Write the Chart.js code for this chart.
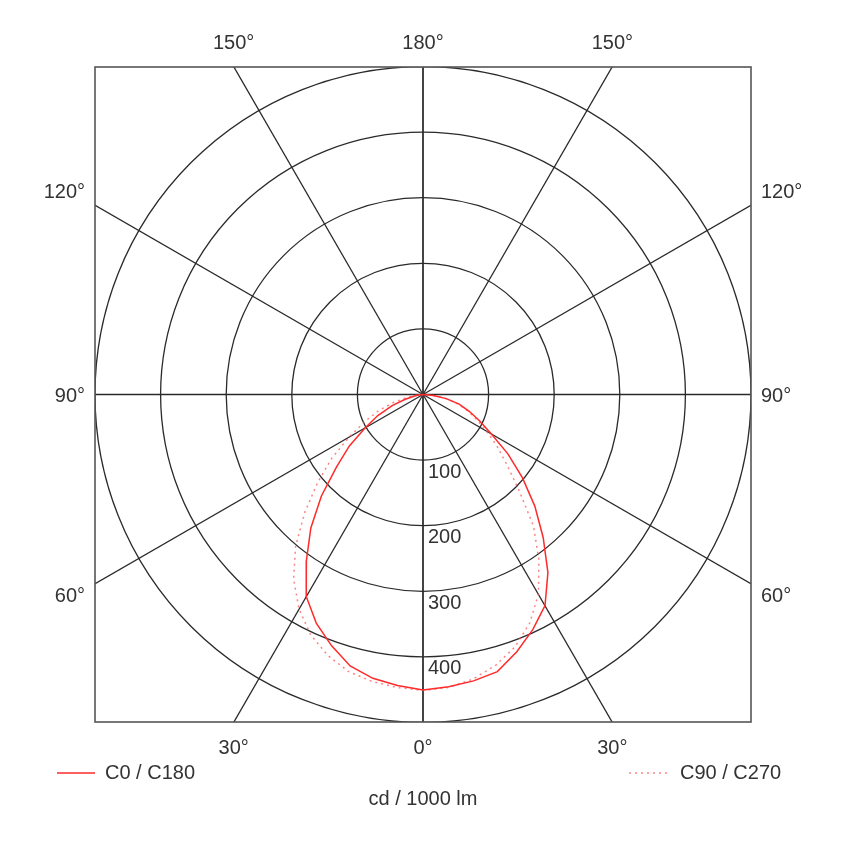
<!DOCTYPE html>
<html>
<head>
<meta charset="utf-8">
<script src="https://cdn.jsdelivr.net/npm/chart.js@4.4.1/dist/chart.umd.min.js"></script>
<style>
  html, body { margin: 0; padding: 0; background: #fff; }
  #wrap { width: 850px; height: 843px; }
</style>
</head>
<body>
<div id="wrap"><canvas id="chart" width="850" height="843"></canvas></div>
<script>
// gamma angles (deg from nadir) and intensities in cd / 1000 lm
const gamma = [0, 5, 10, 15, 20, 25, 30, 35, 40, 45, 50, 55, 60, 65, 70, 75, 80, 85, 90];
const c0   = [452, 448, 444, 438, 418, 396, 372, 332, 285, 241, 198, 158, 120, 95, 75, 57, 36, 16, 0];
const c180 = [451, 446, 440, 429, 408, 385, 356, 310, 266, 219, 172, 137, 102, 76, 50, 28, 13, 5, 0];
const c90  = [452, 449, 441, 428, 410, 385, 352, 308, 262, 207, 167, 138, 112, 90, 72, 55, 35, 15, 0];
const c270 = [452, 449, 445, 438, 424, 405, 378, 344, 302, 255, 210, 170, 130, 98, 72, 46, 24, 9, 0];

const rings = [100, 200, 300, 400, 500];
const ringLabels = ["100", "200", "300", "400"];
const spokes = [0, 30, 60, 90, 120, 150, 180];
const rMax = 500;

const FONT = "20px 'Liberation Sans', Arial, sans-serif";
const TEXT = "#333";

function halfPlanes(left, right) {
  const pts = [];
  for (let i = gamma.length - 1; i >= 0; i--) {
    const g = gamma[i] * Math.PI / 180;
    pts.push({ x: -left[i] * Math.sin(g), y: -left[i] * Math.cos(g) });
  }
  for (let i = 1; i < gamma.length; i++) {
    const g = gamma[i] * Math.PI / 180;
    pts.push({ x: right[i] * Math.sin(g), y: -right[i] * Math.cos(g) });
  }
  return pts;
}

const polarGrid = {
  id: "polarGrid",
  beforeDatasetsDraw(chart) {
    const { ctx, chartArea: a, scales } = chart;
    const sx = scales.x, sy = scales.y;
    const cx = sx.getPixelForValue(0), cy = sy.getPixelForValue(0);
    const k = sx.getPixelForValue(100) - cx;

    ctx.save();
    ctx.beginPath();
    ctx.rect(a.left, a.top, a.right - a.left, a.bottom - a.top);
    ctx.clip();
    ctx.strokeStyle = "#2a2a2a";
    ctx.lineWidth = 1.3;

    rings.forEach((r) => {
      ctx.beginPath();
      ctx.arc(cx, cy, r / 100 * k, 0, Math.PI * 2);
      ctx.stroke();
    });

    // one ray per side for each spoke angle
    const len = 2 * rMax / 100 * k;
    spokes.forEach((s) => {
      const g = s * Math.PI / 180;
      [-1, 1].forEach((side) => {
        ctx.beginPath();
        ctx.moveTo(cx, cy);
        ctx.lineTo(cx + side * Math.sin(g) * len, cy + Math.cos(g) * len);
        ctx.stroke();
      });
    });
    ctx.restore();

    // intensity labels along the nadir line
    ctx.save();
    ctx.font = FONT;
    ctx.fillStyle = TEXT;
    ctx.textAlign = "left";
    ctx.textBaseline = "middle";
    ringLabels.forEach((t, i) => {
      ctx.fillText(t, cx + 5, cy + rings[i] / 100 * k + 12);
    });
    ctx.restore();
  },
  afterDraw(chart) {
    const { ctx, chartArea: a, scales } = chart;
    const cx = scales.x.getPixelForValue(0), cy = scales.y.getPixelForValue(0);
    const half = (a.right - a.left) / 2;

    // frame
    ctx.save();
    ctx.strokeStyle = "#555";
    ctx.lineWidth = 1.6;
    ctx.strokeRect(a.left, a.top, a.right - a.left, a.bottom - a.top);

    ctx.font = FONT;
    ctx.fillStyle = TEXT;
    ctx.textBaseline = "middle";

    spokes.forEach((s) => {
      const g = s * Math.PI / 180;
      const label = s + "\u00b0";
      if (s < 45) {
        const dx = Math.tan(g) * half;
        ctx.textAlign = "center";
        ctx.fillText(label, cx - dx, a.bottom + 26);
        if (s > 0) ctx.fillText(label, cx + dx, a.bottom + 26);
      } else if (s > 135) {
        const dx = Math.tan(Math.PI - g) * half;
        ctx.textAlign = "center";
        ctx.fillText(label, cx - dx, a.top - 24);
        if (s < 180) ctx.fillText(label, cx + dx, a.top - 24);
      } else {
        const dy = half / Math.tan(g);
        const off = s === 90 ? 2 : (s < 90 ? 13 : -13);
        ctx.textAlign = "right";
        ctx.fillText(label, a.left - 10, cy + dy + off);
        ctx.textAlign = "left";
        ctx.fillText(label, a.right + 10, cy + dy + off);
      }
    });

    // legend
    const ly = a.bottom + 51;
    ctx.strokeStyle = chart.data.datasets[0].borderColor;
    ctx.lineWidth = 1.6;
    ctx.beginPath();
    ctx.moveTo(57, ly);
    ctx.lineTo(95, ly);
    ctx.stroke();
    ctx.textAlign = "left";
    ctx.fillText(chart.data.datasets[0].label, 105, ly);

    ctx.strokeStyle = chart.data.datasets[1].borderColor;
    ctx.setLineDash([2, 4]);
    ctx.beginPath();
    ctx.moveTo(629, ly);
    ctx.lineTo(668, ly);
    ctx.stroke();
    ctx.setLineDash([]);
    ctx.fillText(chart.data.datasets[1].label, 680, ly);

    ctx.textAlign = "center";
    ctx.fillText("cd / 1000 lm", cx, a.bottom + 77);
    ctx.restore();
  },
};

new Chart(document.getElementById("chart"), {
  type: "scatter",
  data: {
    datasets: [
      {
        label: "C0 / C180",
        data: halfPlanes(c180, c0),
        showLine: true,
        borderColor: "#ff2a2a",
        borderWidth: 1.5,
        pointRadius: 0,
        tension: 0,
        fill: false,
      },
      {
        label: "C90 / C270",
        data: halfPlanes(c270, c90),
        showLine: true,
        borderColor: "rgba(255, 90, 90, 0.75)",
        borderWidth: 1.5,
        borderDash: [2, 4],
        pointRadius: 0,
        tension: 0,
        fill: false,
      },
    ],
  },
  options: {
    responsive: false,
    animation: false,
    layout: { padding: { left: 95, right: 99, top: 67, bottom: 121 } },
    scales: {
      x: { display: false, min: -rMax, max: rMax },
      y: { display: false, min: -rMax, max: rMax },
    },
    plugins: {
      legend: { display: false },
      tooltip: { enabled: false },
    },
  },
  plugins: [polarGrid],
});
</script>
</body>
</html>
